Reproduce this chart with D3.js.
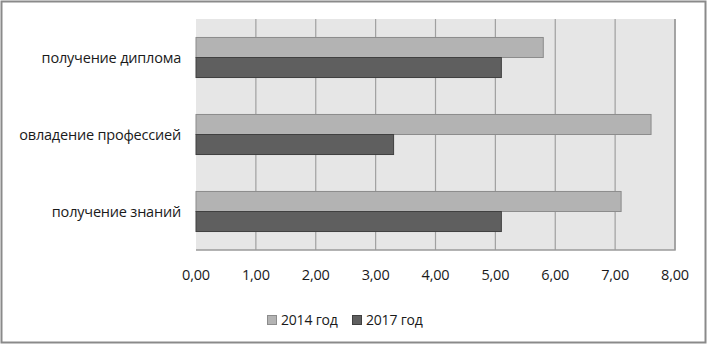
<!DOCTYPE html>
<html>
<head>
<meta charset="utf-8">
<script src="https://cdn.jsdelivr.net/npm/d3@7"></script>
<style>
  body { margin: 0; background: #fff; }
  svg { display: block; font-family: "Open Sans", sans-serif; }
</style>
</head>
<body>
<div id="chart"></div>
<script>
const categories = ["получение диплома", "овладение профессией", "получение знаний"]
const seriesNames = ["2014 год", "2017 год"]
const values2014 = [5.8, 7.6, 7.1]
const values2017 = [5.1, 3.3, 5.1]
const xTicks = [0, 1, 2, 3, 4, 5, 6, 7, 8]

const width = 708
const height = 344
const margin = { top: 19, right: 33, bottom: 94, left: 196 }
const colors = ["#b3b3b3", "#5f5f5f"]
const strokes = ["#8c8c8c", "#404040"]

const svg = d3.select("#chart")
  .append("svg")
  .attr("width", width)
  .attr("height", height)

// Outer frame
svg.append("rect")
  .attr("x", 1.5).attr("y", 1.5)
  .attr("width", width - 4).attr("height", height - 3)
  .attr("fill", "#fff")
  .attr("stroke", "#8a8a8a")
  .attr("stroke-width", 2)

const chartWidth = width - margin.left - margin.right
const chartHeight = height - margin.top - margin.bottom

const g = svg.append("g")
  .attr("transform", `translate(${margin.left},${margin.top})`)

const xScale = d3.scaleLinear()
  .domain([0, 8])
  .range([0, chartWidth])

const yScale = d3.scaleBand()
  .domain(categories)
  .range([0, chartHeight])
  .paddingInner(0.48)
  .paddingOuter(0.24)

const ySub = d3.scaleBand()
  .domain(seriesNames)
  .range([0, yScale.bandwidth()])

// Plot background
g.append("rect")
  .attr("width", chartWidth)
  .attr("height", chartHeight)
  .attr("fill", "#e6e6e6")

// Gridlines
g.selectAll(".grid")
  .data(xTicks.slice(1))
  .enter()
  .append("line")
  .attr("x1", d => xScale(d)).attr("x2", d => xScale(d))
  .attr("y1", 0).attr("y2", chartHeight)
  .attr("stroke", "#a0a0a0")
  .attr("stroke-width", 1.2)

// Plot border (right and bottom)
g.append("path")
  .attr("d", `M${chartWidth},0V${chartHeight}H0`)
  .attr("fill", "none")
  .attr("stroke", "#9a9a9a")
  .attr("stroke-width", 1.5)

// Bars
const series = [values2014, values2017]
series.forEach((vals, si) => {
  g.selectAll(".bar" + si)
    .data(vals)
    .enter()
    .append("rect")
    .attr("x", 0)
    .attr("y", (d, i) => yScale(categories[i]) + ySub(seriesNames[si]))
    .attr("width", d => xScale(d))
    .attr("height", ySub.bandwidth())
    .attr("fill", colors[si])
    .attr("stroke", strokes[si])
    .attr("stroke-width", 1)
})

// Category labels
g.selectAll(".cat")
  .data(categories)
  .enter()
  .append("text")
  .attr("x", -15)
  .attr("y", d => yScale(d) + yScale.bandwidth() / 2)
  .attr("dy", "0.35em")
  .attr("text-anchor", "end")
  .attr("font-size", "14.5px")
  .attr("letter-spacing", "-0.2px")
  .attr("fill", "#1a1a1a")
  .text(d => d)

// X axis labels
g.selectAll(".xt")
  .data(xTicks)
  .enter()
  .append("text")
  .attr("x", d => xScale(d))
  .attr("y", chartHeight + 25)
  .attr("dy", "0.35em")
  .attr("text-anchor", "middle")
  .attr("font-size", "14.5px")
  .attr("letter-spacing", "-0.2px")
  .attr("fill", "#1a1a1a")
  .text(d => d3.format(".2f")(d).replace(".", ","))

// Legend
const legend = svg.append("g")
  .attr("transform", "translate(267,320)")
const legendX = [0, 85]
seriesNames.forEach((name, i) => {
  const item = legend.append("g").attr("transform", `translate(${legendX[i]},0)`)
  item.append("rect")
    .attr("x", 0.5).attr("y", -4.5)
    .attr("width", 9).attr("height", 9)
    .attr("fill", colors[i])
    .attr("stroke", strokes[i])
  item.append("text")
    .attr("x", 14)
    .attr("y", 0)
    .attr("dy", "0.35em")
    .attr("font-size", "14px")
    .attr("letter-spacing", "-0.2px")
    .attr("fill", "#1a1a1a")
    .text(name)
})
</script>
</body>
</html>
